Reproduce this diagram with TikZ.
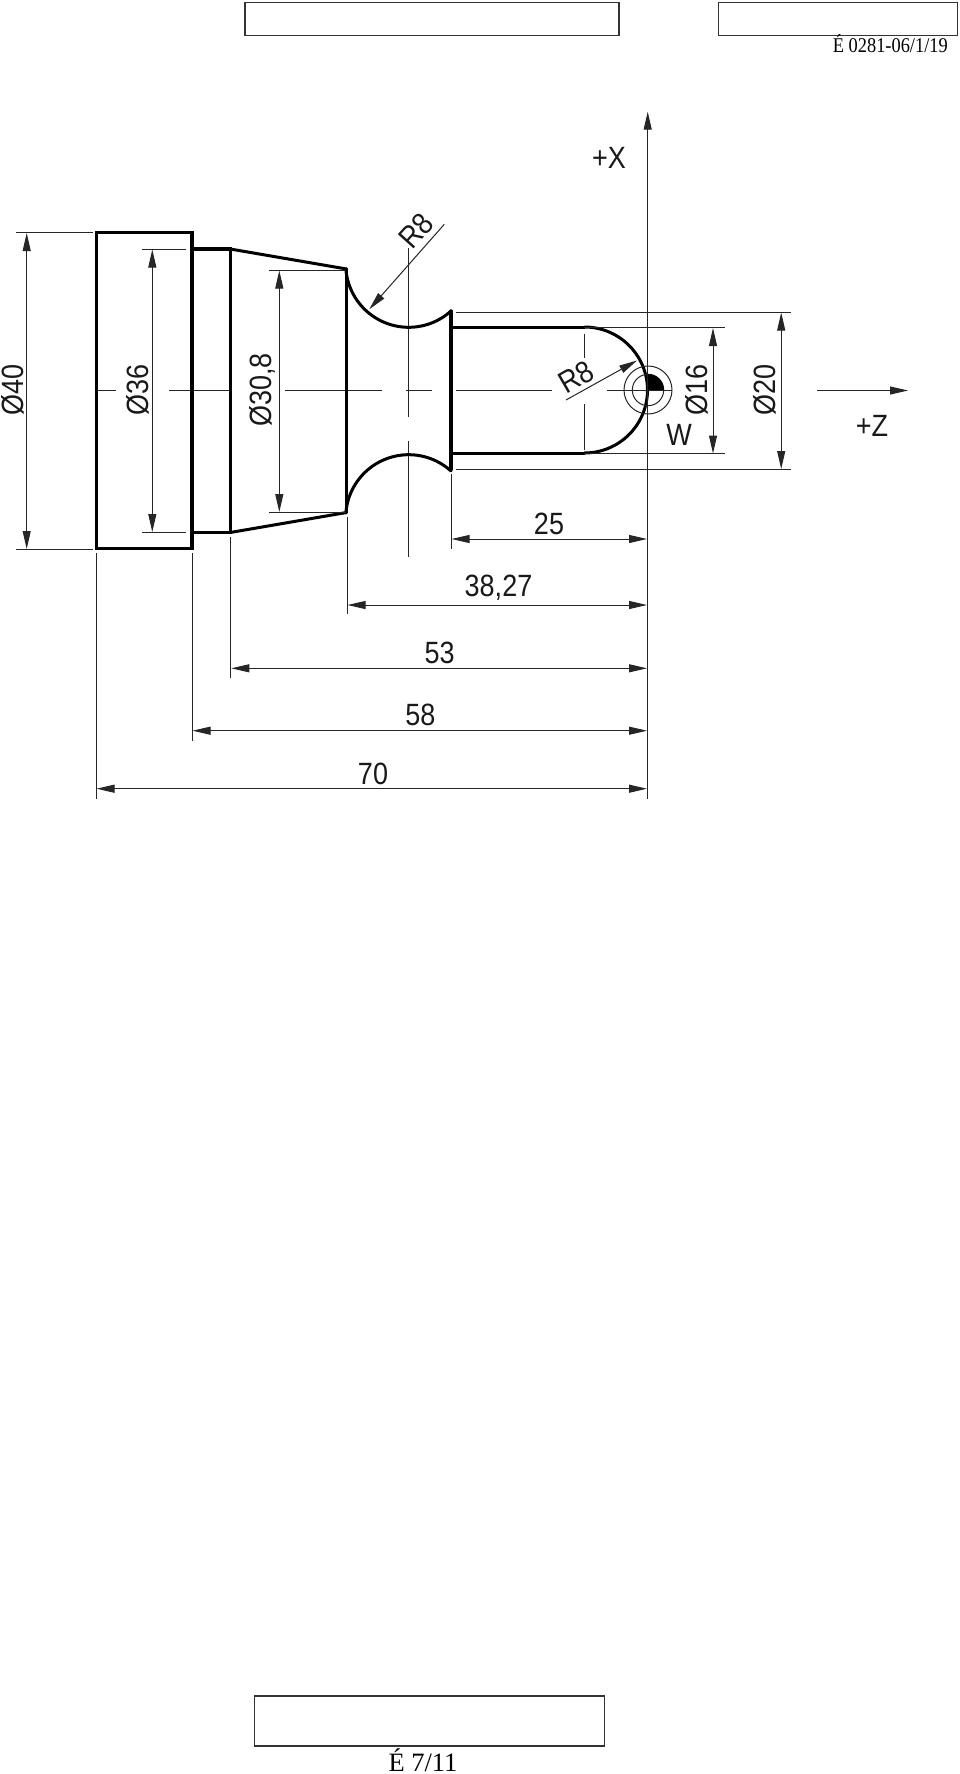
\documentclass[tikz,border=0pt]{standalone}
\usepackage{graphicx}
\usepackage{fontspec}
\setmainfont{Liberation Serif}
\setsansfont{Liberation Sans}
\usetikzlibrary{arrows.meta}
\newcommand{\tallt}[1]{\scalebox{1}[1.14]{#1}}
\tikzset{
  x=1pt,y=-1pt,
  outline/.style={line width=3.4pt,line join=miter,line cap=round,black},
  curveline/.style={line width=3pt,line join=round,line cap=round,black},
  thinline/.style={line width=1pt,draw=black!85},
  hd/.tip={Triangle[length=18pt,width=8pt]},
  dimline/.style={thinline,{hd}-{hd}},
  box/.style={line width=1.5pt,draw=black!80},
  lbl/.style={font=\sffamily\fontsize{27}{27}\selectfont,inner sep=0pt,text=black!90},
  serif/.style={font=\rmfamily,inner sep=0pt,text=black}
}
\begin{document}
\begin{tikzpicture}
\useasboundingbox (0,0) rectangle (960,1774);
\fill[white] (0,0) rectangle (960,1774);
% boxes
\draw[box] (245,2.5) rectangle (619,35.5);
\draw[box] (718.5,2.5) rectangle (957.5,35.5);
\draw[box] (254.5,1696) rectangle (604.5,1746);
\node[serif,anchor=base east,font=\rmfamily\fontsize{18.4}{18.4}\selectfont] (ref) at (948,53) {\tallt{É 0281-06/1/19}};
\node[serif,anchor=base,font=\rmfamily\fontsize{26.5}{26.5}\selectfont] (pg) at (423,1771) {É 7/11};
% centre lines
\foreach \a/\b in {98/116,169/230,285/382,406/432,456/552,607/672}
  \draw[thinline] (\a,390) -- (\b,390);
\draw[thinline] (408.7,248) -- (408.7,417);
\draw[thinline] (408.7,441) -- (408.7,557);
\draw[thinline] (584,334) -- (584,358);
\draw[thinline] (584,404) -- (584,450);
% part outline
\draw[outline] (96.5,232.7) rectangle (192,548.3);
\draw[outline] (192,249) -- (230.2,249) -- (230.2,532.5) -- (192,532.5);
\draw[curveline] (230.2,249) -- (346.5,269);
\draw[curveline] (230.2,532.5) -- (346.5,512.5);
\draw[outline] (346.5,269) -- (346.5,512.5);
\draw[curveline] plot[domain=175.7:47.8,samples=50] ({408.7+63*cos(\x)},{264.3+63*sin(\x)});
\draw[curveline] plot[domain=175.7:47.8,samples=50] ({408.7+63*cos(\x)},{517.7-63*sin(\x)});
\draw[outline] (451,311) -- (451,469.5);
\draw[outline] (451,327.5) -- (584.5,327.5);
\draw[outline] (451,453.5) -- (584.5,453.5);
\draw[curveline] plot[domain=-90:90,samples=60] ({584.5+63*cos(\x)},{390+63*sin(\x)});
% workpiece zero
\draw[thinline] (648,390) circle[radius=24];
\draw[thinline] (648,390) circle[radius=15.7];
\fill[black] (646,390) -- (664,390) arc[start angle=0,end angle=-90,radius=16] -- (646,406) -- cycle;
% axes
\draw[thinline,-{hd}] (647.7,798.7) -- (647.7,111.7);
\draw[thinline,-{hd}] (817,390.5) -- (908,390.5);
\node[lbl] (xl) at (609,158) {\tallt{+X}};
\node[lbl] (zl) at (872,426) {\tallt{+Z}};
\node[lbl] (wl) at (679,434.5) {\tallt{W}};
% diameter dimensions
\draw[thinline] (16,232.7) -- (92.7,232.7);
\draw[thinline] (16,549) -- (92.7,549);
\draw[dimline] (26.7,233) -- (26.7,549);
\node[lbl,rotate=90,anchor=center] (d40) at (12.5,390) {\tallt{Ø40}};
\draw[thinline] (142,249) -- (186,249);
\draw[thinline] (142,532.5) -- (186,532.5);
\draw[dimline] (152.3,249.5) -- (152.3,532);
\node[lbl,rotate=90] (d36) at (137.7,390) {\tallt{Ø36}};
\draw[thinline] (269.3,270) -- (346,270);
\draw[thinline] (269.3,512.3) -- (346,512.3);
\draw[dimline] (279.3,270.5) -- (279.3,512);
\node[lbl,rotate=90] (d308) at (262.5,390) {\tallt{Ø30,8}};
\draw[thinline] (455.5,312) -- (791.3,312);
\draw[thinline] (455.5,469.3) -- (791.3,469.3);
\draw[dimline] (781.2,312.5) -- (781.2,469);
\node[lbl,rotate=90] (d20) at (765.3,390) {\tallt{Ø20}};
\draw[thinline] (584,327.7) -- (724.5,327.7);
\draw[thinline] (584,453.7) -- (724.5,453.7);
\draw[dimline] (713,328) -- (713,453.5);
\node[lbl,rotate=90] (d16) at (697,390) {\tallt{Ø16}};
% radii
\draw[thinline,-{hd}] (444.3,224.3) -- (369.3,309.3);
\node[lbl,rotate=48] (r1) at (416,231) {\tallt{R8}};
\draw[thinline,-{hd}] (566,400) -- (637,360.5);
\node[lbl,rotate=30] (r2) at (576,377) {\tallt{R8}};
% length extension lines
\draw[thinline] (451,474) -- (451,549);
\draw[thinline] (347,516.7) -- (347,614.3);
\draw[thinline] (230.8,537) -- (230.8,678.3);
\draw[thinline] (192,553) -- (192,740.7);
\draw[thinline] (96,553) -- (96,798.7);
% length dimensions
\draw[dimline] (451.5,539) -- (647,539);
\node[lbl,anchor=base] (l25) at (549,534) {\tallt{25}};
\draw[dimline] (347.5,605) -- (647,605);
\node[lbl,anchor=base] (l38) at (498.5,596) {\tallt{38,27}};
\draw[dimline] (231.3,668.3) -- (647,668.3);
\node[lbl,anchor=base] (l53) at (439.6,663.3) {\tallt{53}};
\draw[dimline] (192.5,730.7) -- (647,730.7);
\node[lbl,anchor=base] (l58) at (420.4,725) {\tallt{58}};
\draw[dimline] (96.5,788.7) -- (647,788.7);
\node[lbl,anchor=base] (l70) at (373,784) {\tallt{70}};
\end{tikzpicture}
\end{document}
